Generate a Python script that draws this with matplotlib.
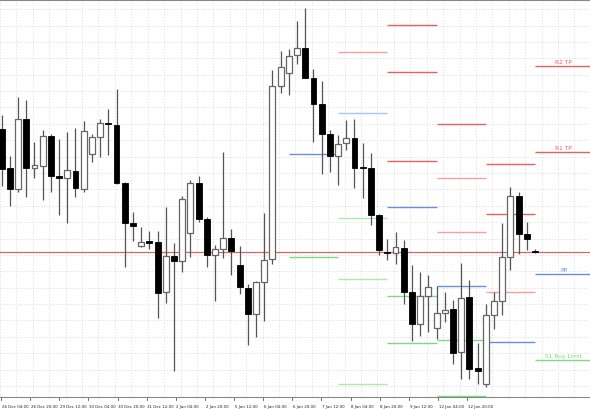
import numpy as np
import matplotlib.pyplot as plt

# candle values (screen-like units, axis is inverted)
opens  = [130,169,190,120,169,167,137,177,179,172,190,155,138,124,126,184,224,247,242,
          243,293,257,262,234,184,220,256,250,239,266,289,315,283,260,87,74,
          56,49,79,105,135,157,144,139,169,169,216,253,254,249,293,325,297,329,
          314,310,353,298,369,385,316,302,258,197,235,252]
highs  = [116,157,98,101,143,131,135,140,133,129,122,135,120,110,90,183,213,228,232,
          232,208,244,197,181,177,218,246,153,230,247,285,282,214,71,52,50,
          22,9,70,82,131,136,121,120,144,154,215,240,233,241,266,273,276,287,
          293,301,264,281,344,305,293,224,188,193,223,250]
lows   = [187,207,193,198,179,201,193,216,224,198,193,163,158,156,185,268,242,248,250,
          319,304,372,273,258,223,268,302,259,276,295,346,338,322,265,94,96,
          65,79,143,175,173,186,151,189,199,226,256,261,265,305,342,337,333,340,
          323,365,380,380,385,388,330,316,271,255,251,254]
closes = [170,190,120,169,166,137,177,179,171,189,132,138,124,125,184,224,227,243,244,
          294,257,262,200,184,220,256,250,239,252,288,315,283,261,87,68,57,
          49,79,105,135,157,145,139,169,169,216,251,254,248,293,325,297,288,314,
          311,354,299,370,372,316,302,258,197,235,240,253]

# level segments: (start, end, level, colour)
RED, LRED, BLUE, LBLUE, GREEN, LGREEN = '#e86060', '#f5a0a0', '#6a8fd8', '#a8c4f4', '#80d880', '#b0e8b0'
segments = [
    (35, 41, 155, BLUE), (35, 41, 258, GREEN),
    (41, 47, 53, LRED), (41, 47, 114, LBLUE), (41, 47, 219, LGREEN), (41, 47, 280, LGREEN), (41, 47, 385, LGREEN),
    (47, 53, 26, RED), (47, 53, 73, RED), (47, 53, 162, RED), (47, 53, 208, BLUE), (47, 53, 297, GREEN), (47, 53, 344, GREEN),
    (53, 59, 125, RED), (53, 59, 179, LRED), (53, 59, 233, LRED), (53, 59, 287, BLUE), (53, 59, 341, GREEN), (53, 59, 397, GREEN),
    (59, 65, 165, RED), (59, 65, 215, RED), (59, 65, 293, LRED), (59, 65, 343, BLUE),
]
right_levels = [67, 153, 275, 361]
right_names = ['R2 TP', 'R1 TP', 'PP', 'S1 Buy Limit']
right_colors = [RED, RED, BLUE, GREEN]
price_line = 253

tick_labels = ['26 Dec 04:00', '26 Dec 20:00', '29 Dec 12:00', '30 Dec 04:00', '30 Dec 20:00',
               '31 Dec 12:00', '2 Jan 04:00', '2 Jan 20:00', '5 Jan 12:00', '6 Jan 04:00',
               '6 Jan 20:00', '7 Jan 12:00', '8 Jan 04:00', '8 Jan 20:00', '9 Jan 12:00',
               '12 Jan 04:00', '12 Jan 20:00']

fig = plt.figure(figsize=(5.9, 4.1), dpi=100)
ax = fig.add_axes([0, 0.03, 1, 0.967])
ax.set_axisbelow(True)

x = np.arange(len(opens))
o, h, l, c = map(np.array, (opens, highs, lows, closes))
up = c < o
ax.vlines(x, h, l, color='#555555', lw=0.9, zorder=2)
bottom = np.maximum(o, c)
height = np.minimum(o, c) - bottom
height = np.where(np.abs(height) < 1.2, -1.2, height)
ax.bar(x[up], height[up], bottom=bottom[up], width=0.72, facecolor='white',
       edgecolor='#666666', lw=0.9, zorder=3)
ax.bar(x[~up], height[~up], bottom=bottom[~up], width=0.72, facecolor='black',
       edgecolor='black', lw=0.6, zorder=3)

for s, e, lv, col in segments:
    ax.hlines(lv, s, e, color=col, lw=1, zorder=1)
for lv, name, col in zip(right_levels, right_names, right_colors):
    ax.hlines(lv, 65, 72, color=col, lw=1, zorder=1)
    ax.text(68.5, lv - 2, name, color=col, fontsize=4.2, ha='center', va='bottom')
ax.axhline(price_line, color='#d06868', lw=0.9, zorder=1)

ax.set_xlim(-0.2, 71.7)
ax.set_ylim(398, 1)
ax.set_yticks(np.arange(10, 398, 16.4))
ax.set_xticks(np.arange(-0.2, 71.7, 2.0))
ax.grid(True, color='#dddddd', ls=(0, (1.5, 2)), lw=0.6)
ax.tick_params(length=0, labelleft=False, labelbottom=False)
for side in ('left', 'right'):
    ax.spines[side].set_visible(False)
ax.spines['top'].set_color('#888888')
ax.spines['bottom'].set_color('#888888')

tick_pos = -0.08 + np.arange(len(tick_labels)) * 3.55
for tp, lab in zip(tick_pos, tick_labels):
    ax.annotate(lab, (tp, 0), xycoords=('data', 'axes fraction'), xytext=(0.5, -6.5),
                textcoords='offset points', fontsize=2.9, ha='left', va='center', color='#222222')
    ax.plot([tp, tp], [0, -0.008], transform=ax.get_xaxis_transform(), color='#555555',
            lw=0.6, clip_on=False)

fig.savefig('out.png', dpi=100)
